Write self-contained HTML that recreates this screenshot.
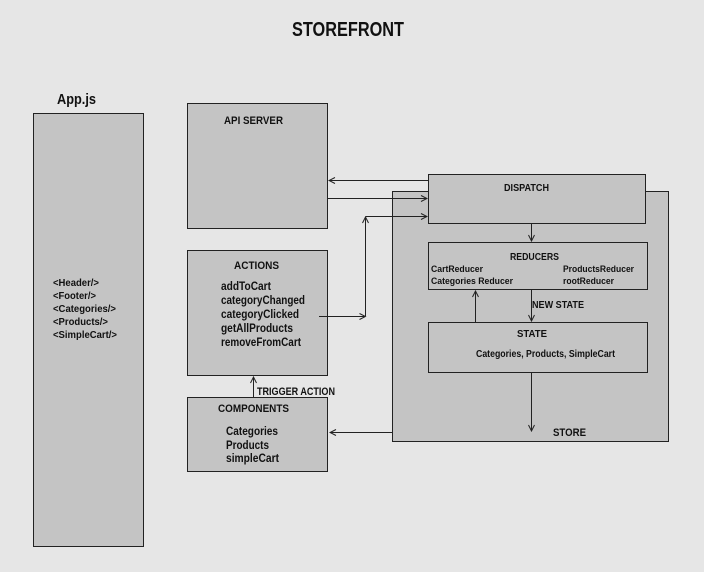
<!DOCTYPE html>
<html><head><meta charset="utf-8"><style>
html,body{margin:0;padding:0;background:#e6e6e6;}
svg{display:block}
text{font-family:"Liberation Sans",sans-serif;font-weight:bold;fill:#111;}
</style></head><body>
<svg width="704" height="572" viewBox="0 0 704 572" xmlns="http://www.w3.org/2000/svg">
<defs><marker id="a" markerWidth="8" markerHeight="8" refX="7" refY="4" orient="auto" markerUnits="userSpaceOnUse"><path d="M1,1 L7,4 L1,7" fill="none" stroke="#222" stroke-width="1"/></marker></defs>
<rect width="704" height="572" fill="#e6e6e6"/>
<text x="348" y="36" font-size="20" text-anchor="middle" textLength="112" lengthAdjust="spacingAndGlyphs">STOREFRONT</text>
<text x="57" y="104" font-size="15" textLength="39" lengthAdjust="spacingAndGlyphs">App.js</text>
<g fill="#c4c4c4" stroke="#222" stroke-width="1">
<rect x="33.5" y="113.5" width="110" height="433"/>
<rect x="187.5" y="103.5" width="140" height="125"/>
<rect x="187.5" y="250.5" width="140" height="125"/>
<rect x="187.5" y="397.5" width="140" height="74"/>
<rect x="392.5" y="191.5" width="276" height="250"/>
<rect x="428.5" y="174.5" width="217" height="49"/>
<rect x="428.5" y="242.5" width="219" height="47"/>
<rect x="428.5" y="322.5" width="219" height="50"/>
</g>
<g font-size="10.5">
<text x="53" y="286" textLength="46" lengthAdjust="spacingAndGlyphs">&lt;Header/&gt;</text>
<text x="53" y="299" textLength="43" lengthAdjust="spacingAndGlyphs">&lt;Footer/&gt;</text>
<text x="53" y="312" textLength="63" lengthAdjust="spacingAndGlyphs">&lt;Categories/&gt;</text>
<text x="53" y="325" textLength="55" lengthAdjust="spacingAndGlyphs">&lt;Products/&gt;</text>
<text x="53" y="338" textLength="64" lengthAdjust="spacingAndGlyphs">&lt;SimpleCart/&gt;</text>
</g>
<text x="224" y="124" font-size="11" textLength="59" lengthAdjust="spacingAndGlyphs">API SERVER</text>
<text x="234" y="269" font-size="11" textLength="45" lengthAdjust="spacingAndGlyphs">ACTIONS</text>
<g font-size="12">
<text x="221" y="290" textLength="50" lengthAdjust="spacingAndGlyphs">addToCart</text>
<text x="221" y="304" textLength="84" lengthAdjust="spacingAndGlyphs">categoryChanged</text>
<text x="221" y="318" textLength="78" lengthAdjust="spacingAndGlyphs">categoryClicked</text>
<text x="221" y="332" textLength="72" lengthAdjust="spacingAndGlyphs">getAllProducts</text>
<text x="221" y="346" textLength="80" lengthAdjust="spacingAndGlyphs">removeFromCart</text>
</g>
<text x="218" y="412" font-size="11" textLength="71" lengthAdjust="spacingAndGlyphs">COMPONENTS</text>
<g font-size="11.5">
<text x="226" y="435" textLength="52" lengthAdjust="spacingAndGlyphs">Categories</text>
<text x="226" y="449" textLength="43" lengthAdjust="spacingAndGlyphs">Products</text>
<text x="226" y="462" textLength="53" lengthAdjust="spacingAndGlyphs">simpleCart</text>
</g>
<text x="257" y="395" font-size="11" textLength="78" lengthAdjust="spacingAndGlyphs">TRIGGER ACTION</text>
<text x="504" y="191" font-size="10.5" textLength="45" lengthAdjust="spacingAndGlyphs">DISPATCH</text>
<text x="510" y="260" font-size="10.5" textLength="49" lengthAdjust="spacingAndGlyphs">REDUCERS</text>
<g font-size="9.5">
<text x="431" y="272" textLength="52" lengthAdjust="spacingAndGlyphs">CartReducer</text>
<text x="431" y="284" textLength="82" lengthAdjust="spacingAndGlyphs">Categories Reducer</text>
<text x="563" y="272" textLength="71" lengthAdjust="spacingAndGlyphs">ProductsReducer</text>
<text x="563" y="284" textLength="51" lengthAdjust="spacingAndGlyphs">rootReducer</text>
</g>
<text x="532" y="308" font-size="10.5" textLength="52" lengthAdjust="spacingAndGlyphs">NEW STATE</text>
<text x="517" y="337" font-size="10.5" textLength="30" lengthAdjust="spacingAndGlyphs">STATE</text>
<text x="476" y="357" font-size="10" textLength="139" lengthAdjust="spacingAndGlyphs">Categories, Products, SimpleCart</text>
<text x="553" y="436" font-size="11" textLength="33" lengthAdjust="spacingAndGlyphs">STORE</text>
<g stroke="#222" stroke-width="1" fill="none">
<line x1="428" y1="180.5" x2="329" y2="180.5" marker-end="url(#a)"/>
<line x1="328" y1="198.5" x2="427" y2="198.5" marker-end="url(#a)"/>
<polyline points="319,316.5 365.5,316.5" marker-end="url(#a)"/>
<polyline points="365.5,316 365.5,217" marker-end="url(#a)"/>
<polyline points="365.5,216.5 427,216.5" marker-end="url(#a)"/>
<line x1="531.5" y1="224" x2="531.5" y2="241" marker-end="url(#a)"/>
<line x1="531.5" y1="290" x2="531.5" y2="321" marker-end="url(#a)"/>
<line x1="475.5" y1="322" x2="475.5" y2="291" marker-end="url(#a)"/>
<line x1="531.5" y1="373" x2="531.5" y2="431" marker-end="url(#a)"/>
<line x1="392" y1="432.5" x2="330" y2="432.5" marker-end="url(#a)"/>
<line x1="253.5" y1="397" x2="253.5" y2="377" marker-end="url(#a)"/>
</g>
</svg>
</body></html>
